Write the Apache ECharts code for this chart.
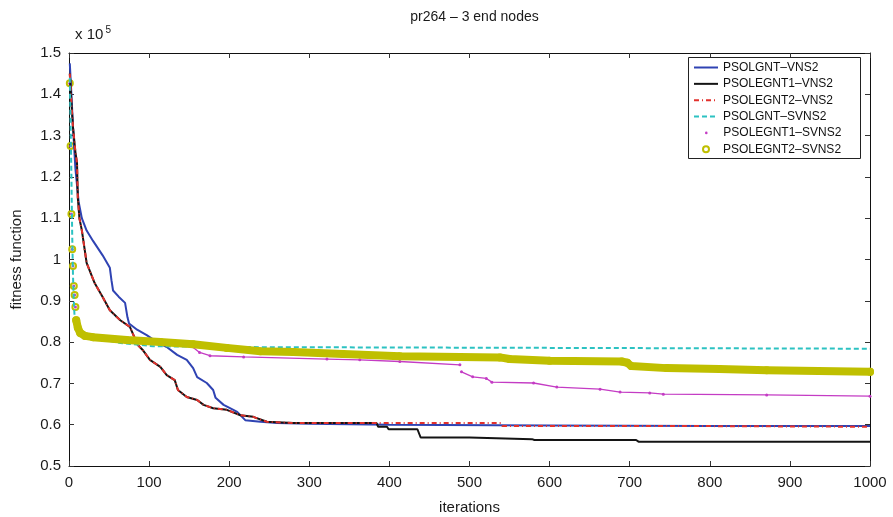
<!DOCTYPE html>
<html>
<head>
<meta charset="utf-8">
<script src="https://cdn.jsdelivr.net/npm/echarts@6/dist/echarts.min.js"></script>
<style>
  html, body { margin: 0; padding: 0; background: #fff; }
  #chart { width: 893px; height: 517px; }
</style>
</head>
<body>
<div id="chart"></div>
<script>
// ---- data: best fitness per iteration for each algorithm variant ----
const chartTitle = 'pr264 – 3 end nodes';
const xName = 'iterations';
const yName = 'fitness function';
const yScaleExp = 5; // axis values are shown in units of 10^5

const seriesNames = [
  'PSOLGNT–VNS2',
  'PSOLEGNT1–VNS2',
  'PSOLEGNT2–VNS2',
  'PSOLGNT–SVNS2',
  'PSOLEGNT1–SVNS2',
  'PSOLEGNT2–SVNS2'
];

// PSOLGNT-VNS2
const gntVnsIter = [1,3,5,8,12,16,22,30,42,51,53,55,62,70,73,75,85,97,110,122,135,147,155,160,172,180,183,193,201,210,220,239,260,300,400,600,800,1000];
const gntVnsVal  = [147500,140000,132000,122000,114000,110000,107000,104500,101000,98000,95000,92500,91000,89500,86000,84500,83000,81700,80000,78800,76900,75700,73700,71500,70100,68400,66500,64800,64000,63100,61100,60700,60400,60200,60000,59800,59700,59700];

// PSOLEGNT1-VNS2 and PSOLEGNT2-VNS2 share the same path up to iteration 280
const egntVnsHeadIter = [1,3,5,8,10,11,13,16,22,32,42,51,64,76,82,86,92,101,114,122,132,136,147,160,168,180,197,214,230,247,280];
const egntVnsHeadVal  = [145000,138000,132000,126000,123400,115000,110000,107100,99200,94300,90900,87700,85300,83700,81000,79300,78100,75700,74000,72000,70800,68400,66700,66000,64800,64000,63600,62300,61900,60700,60400];

const egnt1VnsTailIter = [384,386,397,399,435,439,500,502,578,581,708,711,1000];
const egnt1VnsTailVal  = [60400,59500,59500,58900,58900,56900,56900,56500,56500,56300,56300,55900,55900];

const egnt2VnsTailIter = [539,541,750,752,1000];
const egnt2VnsTailVal  = [60400,59700,59700,59500,59500];

// PSOLGNT-SVNS2
const gntSvnsIter = [1,2,3,4,5,6,7,9,15,30,64,105,200,600,1000];
const gntSvnsVal  = [144000,133000,120000,106000,96000,90000,86000,83500,82000,81000,79800,79000,78800,78600,78400];

// PSOLEGNT1-SVNS2
const egnt1SvnsIter = [1,2,3,4,5,6,7,8,9,11,14,20,30,72,114,150,163,176,218,322,363,413,488,490,504,521,528,580,609,663,688,725,742,871,1000];
const egnt1SvnsVal  = [142700,127500,111000,102500,98400,93600,91400,88500,85300,83500,82200,81500,81200,80500,80000,79500,77500,76700,76400,75900,75700,75300,74500,72800,71600,71200,70300,70100,69100,68600,67900,67700,67400,67200,66900];
const egnt1SvnsGapAfter = [488]; // dotted trace jumps here, no connecting stroke

// PSOLEGNT2-SVNS2
const egnt2SvnsIter = [1,2,3,4,5,6,7,8,9,11,14,20,30,72,114,155,197,239,280,342,413,538,550,600,690,697,702,746,812,871,1000];
const egnt2SvnsVal  = [142700,127500,111000,102500,98400,93600,91400,88500,85300,83500,82200,81500,81200,80500,80000,79500,78600,77800,77600,77100,76600,76300,75900,75500,75300,75000,74200,73700,73500,73200,72800];

// the SVNS2 markers are sparse during the first iterations, dense afterwards
const denseFromIter = 9;

// ---- helpers ----
function toPoints(iters, vals) {
  return iters.map((x, i) => [x, vals[i]]);
}
function densePart(points, gaps) {
  const out = [];
  points.forEach(p => {
    if (p[0] >= denseFromIter) {
      out.push(p);
      if (gaps && gaps.indexOf(p[0]) >= 0) out.push([p[0] + 1, '-']);
    }
  });
  return out;
}
// legend line sample as a filled path, drawn from a dash pattern
function dashIcon(pattern, len, thick) {
  let d = '';
  let x = 0, k = 0;
  while (x < len) {
    const seg = pattern[k % pattern.length];
    if (k % 2 === 0) {
      const w = Math.min(seg, len - x);
      d += 'M' + x + ',0h' + w + 'v' + thick + 'h' + (-w) + 'Z';
    }
    x += seg; k++;
  }
  // corner anchors keep the scale of the sample fixed
  return 'path://M0,0L0,0M' + len + ',' + thick + 'L' + len + ',' + thick + d;
}

const colors = {
  blue: '#2f43b3',
  black: '#141414',
  red: '#e2312c',
  cyan: '#2cc2c2',
  magenta: '#c43cc4',
  yellow: '#bfbf00'
};

const fontFamily = '"Liberation Sans", Arial, Helvetica, sans-serif';

const egnt1Vns = toPoints(egntVnsHeadIter.concat(egnt1VnsTailIter), egntVnsHeadVal.concat(egnt1VnsTailVal));
const egnt2Vns = toPoints(egntVnsHeadIter.concat(egnt2VnsTailIter), egntVnsHeadVal.concat(egnt2VnsTailVal));
const egnt1Svns = toPoints(egnt1SvnsIter, egnt1SvnsVal);
const egnt2Svns = toPoints(egnt2SvnsIter, egnt2SvnsVal);

const dashPatterns = {
  solid: [24, 0],
  dashDot: [5, 3, 1, 3],
  dashed: [5, 3]
};

function lineSeries(name, data, color, width, type) {
  return {
    name, type: 'line', data,
    symbol: 'none', showSymbol: false, animation: false, silent: true,
    lineStyle: { color, width, type: type || 'solid', cap: 'butt' },
    itemStyle: { color }
  };
}

const series = [
  lineSeries(seriesNames[0], toPoints(gntVnsIter, gntVnsVal), colors.blue, 2),
  lineSeries(seriesNames[1], egnt1Vns, colors.black, 2),
  lineSeries(seriesNames[2], egnt2Vns, colors.red, 2, dashPatterns.dashDot),
  lineSeries(seriesNames[3], toPoints(gntSvnsIter, gntSvnsVal), colors.cyan, 2, dashPatterns.dashed),
  // PSOLEGNT1-SVNS2: dot markers
  {
    name: seriesNames[4], type: 'scatter', data: egnt1Svns,
    symbol: 'circle', symbolSize: 3, animation: false, silent: true,
    itemStyle: { color: colors.magenta, opacity: 1 }
  },
  Object.assign(lineSeries(seriesNames[4], densePart(egnt1Svns, egnt1SvnsGapAfter), colors.magenta, 1.3), { connectNulls: false }),
  // PSOLEGNT2-SVNS2: open circle markers, merging into a thick band
  {
    name: seriesNames[5], type: 'scatter', data: egnt2Svns,
    symbol: 'circle', symbolSize: 6, animation: false, silent: true,
    itemStyle: { color: 'rgba(0,0,0,0)', borderColor: colors.yellow, borderWidth: 2, opacity: 1 }
  },
  Object.assign(lineSeries(seriesNames[5], densePart(egnt2Svns), colors.yellow, 8), {
    lineStyle: { color: colors.yellow, width: 8, cap: 'round', join: 'round' }
  })
];

// one legend block per row so every icon can be sized on its own
const legendRowTop = 61;
const legendRowStep = 16.35;
const legendIcons = [
  { left: 694, icon: dashIcon(dashPatterns.solid, 24, 2), itemStyle: { color: colors.blue } },
  { left: 694, icon: dashIcon(dashPatterns.solid, 24, 2), itemStyle: { color: colors.black } },
  { left: 694, icon: dashIcon(dashPatterns.dashDot, 24, 2), itemStyle: { color: colors.red } },
  { left: 694, icon: dashIcon(dashPatterns.dashed, 24, 2), itemStyle: { color: colors.cyan } },
  { left: 705, icon: 'circle', itemHeight: 2.6, itemStyle: { color: colors.magenta, borderWidth: 0 } },
  { left: 702, icon: 'circle', itemHeight: 6, itemStyle: { color: 'rgba(0,0,0,0)', borderColor: colors.yellow, borderWidth: 2 } }
];
const legends = seriesNames.map((name, i) => {
  const extra = legendIcons[i];
  return {
    data: [{ name, icon: extra.icon, itemStyle: extra.itemStyle }],
    left: extra.left,
    top: legendRowTop + i * legendRowStep,
    orient: 'vertical',
    padding: 0,
    itemGap: 0,
    itemWidth: 24,
    itemHeight: extra.itemHeight || 10,
    selectedMode: false,
    z: 6,
    textStyle: { fontFamily, fontSize: 12, color: '#111', lineHeight: 13 }
  };
});

const axisCommonX = {
  type: 'value', min: 0, max: 1000, interval: 100,
  axisLine: { show: true, onZero: false, lineStyle: { color: '#111', width: 1 } },
  axisTick: { show: true, inside: true, length: 5, lineStyle: { color: '#333' } },
  splitLine: { show: false }
};
const axisCommonY = {
  type: 'value', min: 50000, max: 150000, interval: 10000,
  axisLine: { show: true, onZero: false, lineStyle: { color: '#111', width: 1 } },
  axisTick: { show: true, inside: true, length: 5, lineStyle: { color: '#333' } },
  splitLine: { show: false }
};

const option = {
  animation: false,
  backgroundColor: '#fff',
  title: {
    text: chartTitle,
    left: 469.5,
    top: 5,
    textAlign: 'center',
    textStyle: { fontFamily, fontSize: 14, fontWeight: 'normal', color: '#1a1a1a' }
  },
  grid: { left: 69, right: 23, top: 53, bottom: 51, show: false, containLabel: false, outerBoundsMode: 'none' },
  legend: legends,
  xAxis: [
    Object.assign({}, axisCommonX, {
      position: 'bottom',
      name: xName, nameLocation: 'middle', nameGap: 34,
      nameTextStyle: { fontFamily, fontSize: 15, color: '#1a1a1a' },
      axisLabel: { margin: 9, fontFamily, fontSize: 15, color: '#1a1a1a', formatter: v => String(v) }
    }),
    Object.assign({}, axisCommonX, { position: 'top', axisLabel: { show: false } })
  ],
  yAxis: [
    Object.assign({}, axisCommonY, {
      position: 'left',
      name: yName, nameLocation: 'middle', nameGap: 45, nameRotate: 90,
      nameTextStyle: { fontFamily, fontSize: 15, color: '#1a1a1a' },
      axisLabel: {
        margin: 8, fontFamily, fontSize: 15, color: '#1a1a1a',
        formatter: v => String(Math.round(v / Math.pow(10, yScaleExp - 1)) / 10)
      }
    }),
    Object.assign({}, axisCommonY, { position: 'right', axisLabel: { show: false } })
  ],
  graphic: [
    {
      type: 'rect', z: 5,
      shape: { x: 688.5, y: 57.5, width: 172, height: 101 },
      style: { fill: '#fff', stroke: '#222', lineWidth: 1 }
    },
    {
      type: 'text', z: 5, x: 75, y: 35,
      style: { text: 'x 10', font: '15px ' + fontFamily, fill: '#1a1a1a', verticalAlign: 'middle' }
    },
    {
      type: 'text', z: 5, x: 105.5, y: 30,
      style: { text: String(yScaleExp), font: '10px ' + fontFamily, fill: '#1a1a1a', verticalAlign: 'middle' }
    }
  ],
  series
};

const chart = echarts.init(document.getElementById('chart'), null, { renderer: 'canvas' });
chart.setOption(option);
</script>
</body>
</html>
